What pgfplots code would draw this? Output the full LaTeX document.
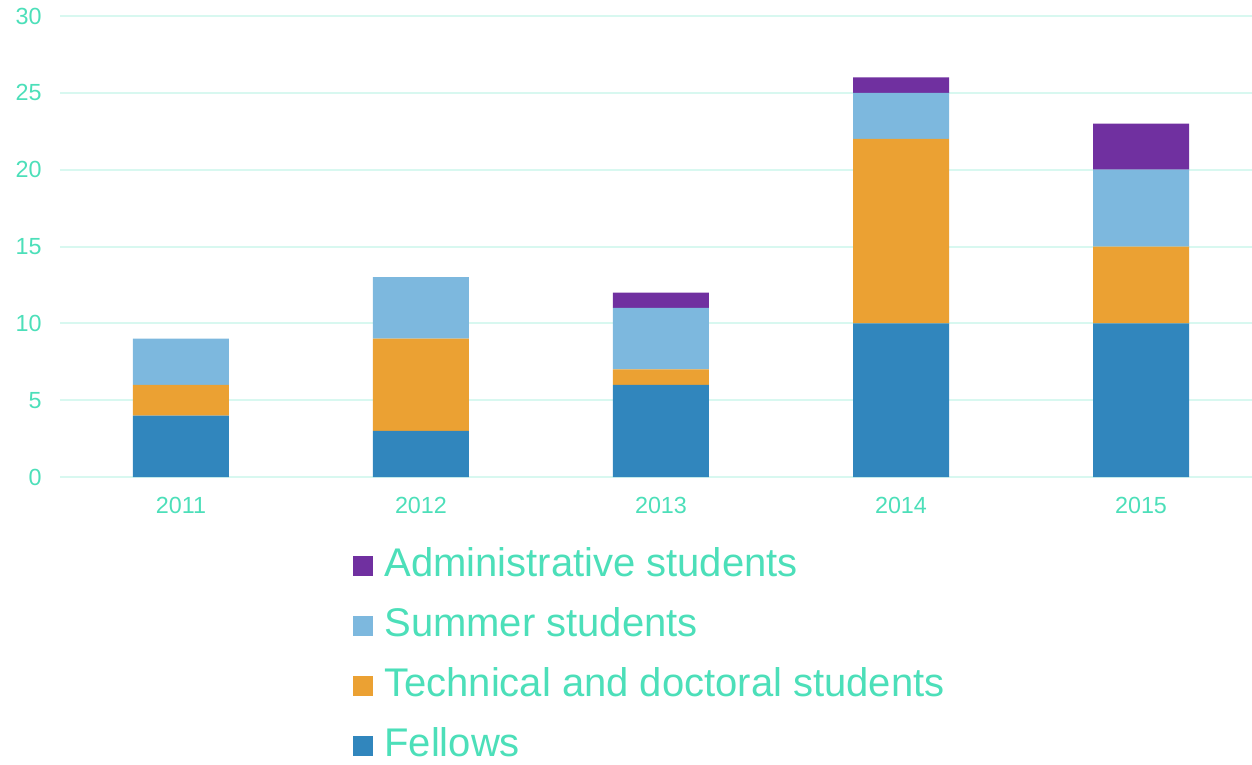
\documentclass[border=0pt]{standalone}
\usepackage{fontspec}
\setmainfont{Liberation Sans}
\usepackage{pgfplots}
\pgfplotsset{compat=1.18}
\definecolor{cFel}{HTML}{3186BD}
\definecolor{cTec}{HTML}{EBA133}
\definecolor{cSum}{HTML}{7DB8DE}
\definecolor{cAdm}{HTML}{7030A0}
\definecolor{cTxt}{HTML}{4CDFB9}
\definecolor{cGrid}{HTML}{D8F8F0}
\begin{document}
\begin{tikzpicture}
\begin{axis}[
  at={(0,0)}, anchor=south west,
  scale only axis, width=715.2pt, height=276.6pt,
  ybar stacked, bar width=57.6pt,
  xmin=-0.504, xmax=4.4625, ymin=0, ymax=30,
  xtick={0,1,2,3,4}, xticklabels={2011,2012,2013,2014,2015},
  ytick={0,5,10,15,20,25,30},
  axis line style={draw=none},
  major tick length=0pt,
  ymajorgrids, grid style={cGrid, line width=1.2pt},
  /pgf/number format/assume math mode=true,
  tick label style={font=\fontsize{14}{16}\selectfont, text=cTxt},
  yticklabel style={anchor=east, inner sep=0pt, xshift=-10.8pt},
  xticklabel style={anchor=center, inner sep=0pt, yshift=-16.8pt},
  legend style={at={(0.2458,-0.152)}, anchor=north west, draw=none, fill=none,
    font=\fontsize{24}{28}\selectfont, text=cTxt, inner sep=0pt,
    row sep=14pt,
    nodes={inner sep=0pt, text height=17.5pt, text depth=4.5pt, anchor=west}},
  legend cell align=left,
  reverse legend,
  legend image code/.code={\fill[#1] (0pt,-6pt) rectangle (12pt,6pt);},
  legend style={/tikz/every even column/.append style={column sep=0pt}},
]
\addplot[fill=cFel, draw=none] coordinates {(0,4) (1,3) (2,6) (3,10) (4,10)};
\addplot[fill=cTec, draw=none] coordinates {(0,2) (1,6) (2,1) (3,12) (4,5)};
\addplot[fill=cSum, draw=none] coordinates {(0,3) (1,4) (2,4) (3,3) (4,5)};
\addplot[fill=cAdm, draw=none] coordinates {(0,0) (1,0) (2,1) (3,1) (4,3)};
\legend{\hspace{6.6pt}Fellows,\hspace{6.6pt}Technical and doctoral students,\hspace{6.6pt}Summer students,\hspace{6.6pt}Administrative students}
\end{axis}
\pgfresetboundingbox
\path (-36pt,-172.2pt) rectangle (715.2pt,286.2pt);
\end{tikzpicture}
\end{document}
